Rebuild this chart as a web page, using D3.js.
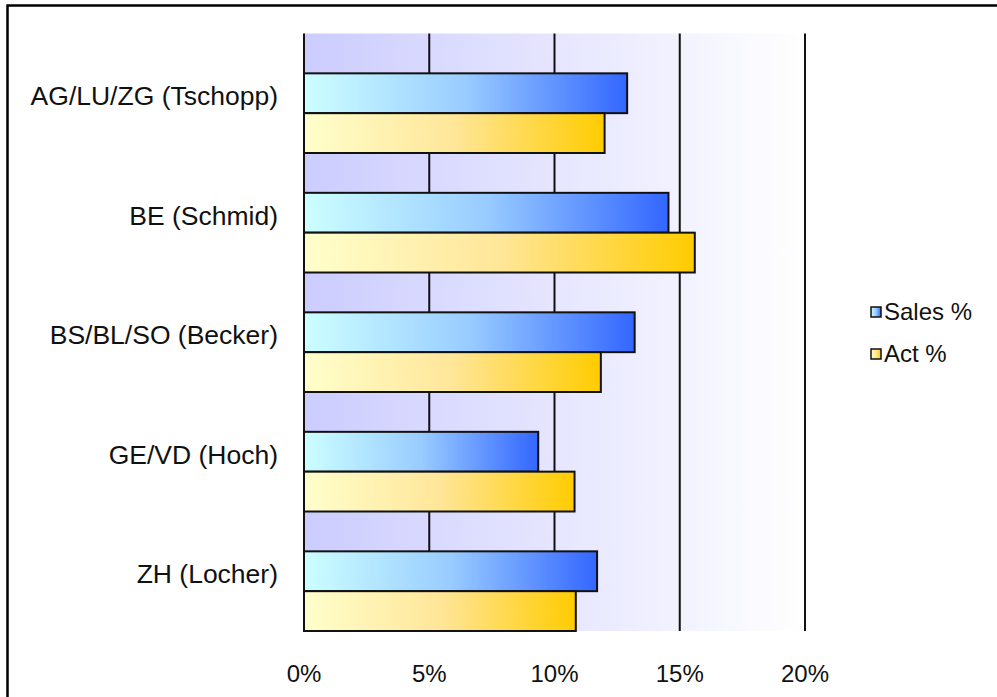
<!DOCTYPE html>
<html>
<head>
<meta charset="utf-8">
<script src="https://cdn.jsdelivr.net/npm/d3@7"></script>
<style>
  body { margin: 0; background: #fff; }
  svg text { font-family: "Liberation Sans", Arial, sans-serif; fill: #111; }
</style>
</head>
<body>
<svg id="chart" width="997" height="697"></svg>
<script>
// ===============================
// Dades
// ===============================
const categories = ["AG/LU/ZG (Tschopp)", "BE (Schmid)", "BS/BL/SO (Becker)", "GE/VD (Hoch)", "ZH (Locher)"];
const salesPct = [12.9, 14.55, 13.2, 9.35, 11.7];
const actPct = [12.0, 15.6, 11.85, 10.8, 10.85];
const seriesNames = ["Sales %", "Act %"];
const tickValues = [0, 5, 10, 15, 20];

// ===============================
// Mides
// ===============================
const svg = d3.select("#chart");
const plot = { left: 304, right: 805, top: 33.5, bottom: 631 };

const x = d3.scaleLinear().domain([0, 20]).range([plot.left, plot.right]);
const y = d3.scaleBand().domain(categories).range([plot.top, plot.bottom]);
// cada categoria: 1/3 buit, 1/3 vendes, 1/3 activitat
const third = y.bandwidth() / 3;

// ===============================
// Gradients
// ===============================
const defs = svg.append("defs");

function gradient(id, stops) {
  const g = defs.append("linearGradient").attr("id", id)
    .attr("x1", "0%").attr("x2", "100%").attr("y1", "0%").attr("y2", "0%");
  g.selectAll("stop").data(stops).enter().append("stop")
    .attr("offset", d => d[0])
    .attr("stop-color", d => d[1]);
}
gradient("bg-grad", [["0%", "#ccccff"], ["100%", "#ffffff"]]);
gradient("sales-grad", [["0%", "#ccffff"], ["50%", "#99ccff"], ["100%", "#3366ff"]]);
gradient("act-grad", [["0%", "#ffffcc"], ["50%", "#ffe699"], ["100%", "#ffcc00"]]);

// marc exterior
svg.append("rect")
  .attr("x", 7.5).attr("y", 5.5)
  .attr("width", 1000).attr("height", 700)
  .attr("fill", "white")
  .attr("stroke", "#000")
  .attr("stroke-width", 2.5);

// fons de l'àrea del gràfic
svg.append("rect")
  .attr("x", plot.left).attr("y", plot.top)
  .attr("width", plot.right - plot.left)
  .attr("height", plot.bottom - plot.top)
  .attr("fill", "url(#bg-grad)");

// línies de graella
svg.selectAll(".grid")
  .data(tickValues)
  .enter()
  .append("line")
  .attr("class", "grid")
  .attr("x1", d => x(d)).attr("x2", d => x(d))
  .attr("y1", plot.top).attr("y2", plot.bottom)
  .attr("stroke", "#111")
  .attr("stroke-width", 2);

// ===============================
// Barres
// ===============================
const barsData = [
  { key: "sales", values: salesPct, offset: 1, fill: "url(#sales-grad)" },
  { key: "act", values: actPct, offset: 2, fill: "url(#act-grad)" }
];

barsData.forEach(s => {
  svg.selectAll(".bar-" + s.key)
    .data(categories)
    .enter()
    .append("rect")
    .attr("class", "bar-" + s.key)
    .attr("x", x(0))
    .attr("y", d => y(d) + third * s.offset)
    .attr("width", (d, i) => x(s.values[i]) - x(0))
    .attr("height", third)
    .attr("fill", s.fill)
    .attr("stroke", "#111")
    .attr("stroke-width", 2);
});

// ===============================
// Eixos (text)
// ===============================
svg.selectAll(".cat-label")
  .data(categories)
  .enter()
  .append("text")
  .attr("class", "cat-label")
  .attr("x", 278)
  .attr("y", d => y(d) + y.bandwidth() / 2 + 5)
  .attr("text-anchor", "end")
  .attr("dominant-baseline", "middle")
  .style("font-size", "26.5px")
  .text(d => d);

svg.selectAll(".tick-label")
  .data(tickValues)
  .enter()
  .append("text")
  .attr("class", "tick-label")
  .attr("x", d => x(d))
  .attr("y", 682)
  .attr("text-anchor", "middle")
  .style("font-size", "24px")
  .text(d => d + "%");

// ===============================
// Llegenda
// ===============================
const legend = svg.selectAll(".legend-item")
  .data(seriesNames)
  .enter()
  .append("g")
  .attr("class", "legend-item")
  .attr("transform", (d, i) => `translate(871, ${307 + i * 42})`);

legend.append("rect")
  .attr("width", 10).attr("height", 10)
  .attr("fill", (d, i) => barsData[i].fill)
  .attr("stroke", "#111")
  .attr("stroke-width", 1.5);

legend.append("text")
  .attr("x", 13)
  .attr("y", 7)
  .attr("dominant-baseline", "middle")
  .style("font-size", "24px")
  .text(d => d);
</script>
</body>
</html>
